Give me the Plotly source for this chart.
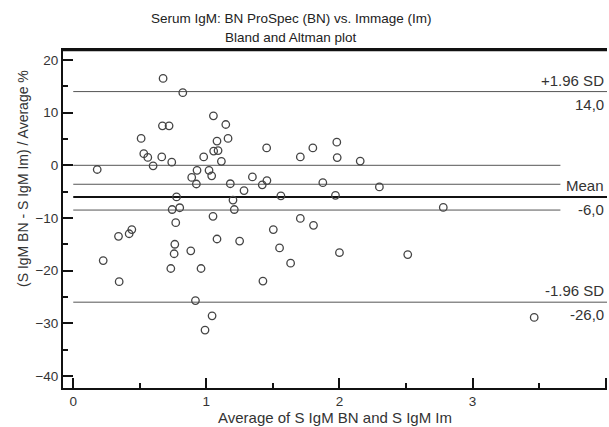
import plotly.graph_objects as go

# ---- data ----
avg_x = [0.18, 0.225, 0.34, 0.345, 0.42, 0.44, 0.51, 0.53, 0.56, 0.60,
         0.665, 0.675, 0.67, 0.72, 0.733, 0.74, 0.743, 0.758, 0.763, 0.77,
         0.776, 0.80, 0.823, 0.883, 0.89, 0.918, 0.925, 0.93, 0.96, 0.98,
         0.99, 1.02, 1.04, 1.043, 1.05, 1.053, 1.055, 1.08, 1.088, 1.08,
         1.113, 1.146, 1.163, 1.18, 1.2, 1.21, 1.25, 1.283, 1.346, 1.42,
         1.425, 1.453, 1.455, 1.503, 1.55, 1.56, 1.633, 1.706, 1.706, 1.80,
         1.805, 1.875, 1.97, 1.98, 1.983, 2.0, 2.156, 2.30, 2.513, 2.78,
         3.463]
diff_pct = [-0.8, -18.1, -13.5, -22.1, -13.0, -12.2, 5.1, 2.2, 1.5, -0.1,
            1.6, 16.5, 7.5, 7.5, -19.6, 0.6, -8.4, -16.8, -15.0, -10.9,
            -6.0, -8.06, 13.8, -16.25, -2.3, -25.7, -3.55, -0.95, -19.6, 1.6,
            -31.3, -0.95, -2.0, -28.6, -9.7, 9.4, 2.7, 4.6, 2.8, -14.0,
            0.76, 7.75, 5.1, -3.5, -6.6, -8.4, -14.4, -4.8, -2.2, -3.7,
            -22.0, 3.3, -2.9, -12.2, -15.7, -5.8, -18.6, 1.6, -10.1, 3.3,
            -11.4, -3.3, -5.7, 4.4, 1.46, -16.6, 0.8, -4.1, -16.95, -8.0,
            -28.9]

mean_diff = -6.0
upper_loa = 14.0
lower_loa = -26.0
zero_level = 0.0
mean_ci = [-3.6, -8.5]
short_line_end = 3.66
x_start = 0.0
x_end = 4.01

title_lines = ["Serum IgM: BN ProSpec (BN) vs. Immage (Im)", "Bland and Altman plot"]
x_title = "Average of S IgM BN and S IgM Im"
y_title = "(S IgM BN - S IgM Im) / Average %"
loa_labels = [("+1.96 SD", "14,0", upper_loa), ("Mean", "-6,0", mean_diff), ("-1.96 SD", "-26,0", lower_loa)]

FONT = "Liberation Sans, Arial, sans-serif"
TXT = "#333333"

fig = go.Figure()

# reference lines
thin = dict(color="#555555", width=1)
for lvl, xe in [(upper_loa, x_end), (zero_level, short_line_end), (mean_ci[0], short_line_end),
                (mean_ci[1], short_line_end), (lower_loa, x_end)]:
    fig.add_trace(go.Scatter(x=[x_start, xe], y=[lvl, lvl], mode="lines", line=thin,
                             hoverinfo="skip", showlegend=False))
fig.add_trace(go.Scatter(x=[x_start, x_end], y=[mean_diff, mean_diff], mode="lines",
                         line=dict(color="#111111", width=2), hoverinfo="skip", showlegend=False))

# points
fig.add_trace(go.Scatter(x=avg_x, y=diff_pct, mode="markers", showlegend=False,
                         marker=dict(symbol="circle-open", size=7.5, color="#444444",
                                     line=dict(width=1.3, color="#444444"))))

# labels for limits
for top, bot, lvl in loa_labels:
    fig.add_annotation(x=1, xref="paper", y=lvl, yref="y", text=top, showarrow=False,
                       xanchor="right", yanchor="bottom", yshift=1, xshift=-1,
                       font=dict(family=FONT, size=15, color=TXT))
    fig.add_annotation(x=1, xref="paper", y=lvl, yref="y", text=bot, showarrow=False,
                       xanchor="right", yanchor="top", yshift=-2, xshift=-1,
                       font=dict(family=FONT, size=15, color=TXT))

# title
fig.add_annotation(x=(291 - 63) / 544, xref="paper", y=1, yref="paper", yshift=32,
                   text=title_lines[0], showarrow=False, xanchor="center", yanchor="middle",
                   font=dict(family=FONT, size=13.5, color="#222222"))
fig.add_annotation(x=(291 - 63) / 544, xref="paper", y=1, yref="paper", yshift=13,
                   text=title_lines[1], showarrow=False, xanchor="center", yanchor="middle",
                   font=dict(family=FONT, size=13.5, color="#222222"))
# y title
fig.add_annotation(x=0, xref="paper", xshift=-40, y=(388 - 179) / 338, yref="paper",
                   text=y_title, textangle=-90, showarrow=False, xanchor="center", yanchor="middle",
                   font=dict(family=FONT, size=14, color=TXT))

# top frame line (the reference has a top border but no right border)
fig.add_shape(type="line", xref="paper", yref="paper", x0=0, x1=1, y0=1, y1=1,
              line=dict(color="#111111", width=2.5), layer="above")

fig.update_layout(
    width=609, height=427,
    margin=dict(l=63, r=2, t=50, b=39),
    paper_bgcolor="white", plot_bgcolor="white",
    font=dict(family=FONT, size=13, color=TXT),
    xaxis=dict(range=[-0.077, 4.01], dtick=1, tick0=0, showgrid=False, zeroline=False,
               showline=True, mirror=True, linecolor="#111111", linewidth=2,
               ticks="inside", ticklen=10, tickwidth=2, tickcolor="#111111",
               minor=dict(dtick=0.5, ticks="inside", ticklen=5, tickwidth=2, tickcolor="#111111"),
               tickfont=dict(family=FONT, size=13.5, color=TXT),
               title=dict(text=x_title, font=dict(family=FONT, size=15, color=TXT), standoff=3)),
    yaxis=dict(range=[-42.3, 21.9], dtick=10, tick0=0, showgrid=False, zeroline=False,
               showline=True, linecolor="#111111", linewidth=2,
               ticks="inside", ticklen=10, tickwidth=2, tickcolor="#111111",
               minor=dict(dtick=5, ticks="inside", ticklen=5, tickwidth=2, tickcolor="#111111"),
               tickfont=dict(family=FONT, size=13.5, color=TXT)),
)

fig.write_html("out.html", config={"displayModeBar": False})

# remove the browser's default page margin so the figure sits at the window's origin
with open("out.html", "r", encoding="utf-8") as f:
    html = f.read()
html = html.replace("<head>", "<head><style>html,body{margin:0;padding:0;overflow:hidden;}</style>", 1)
with open("out.html", "w", encoding="utf-8") as f:
    f.write(html)
